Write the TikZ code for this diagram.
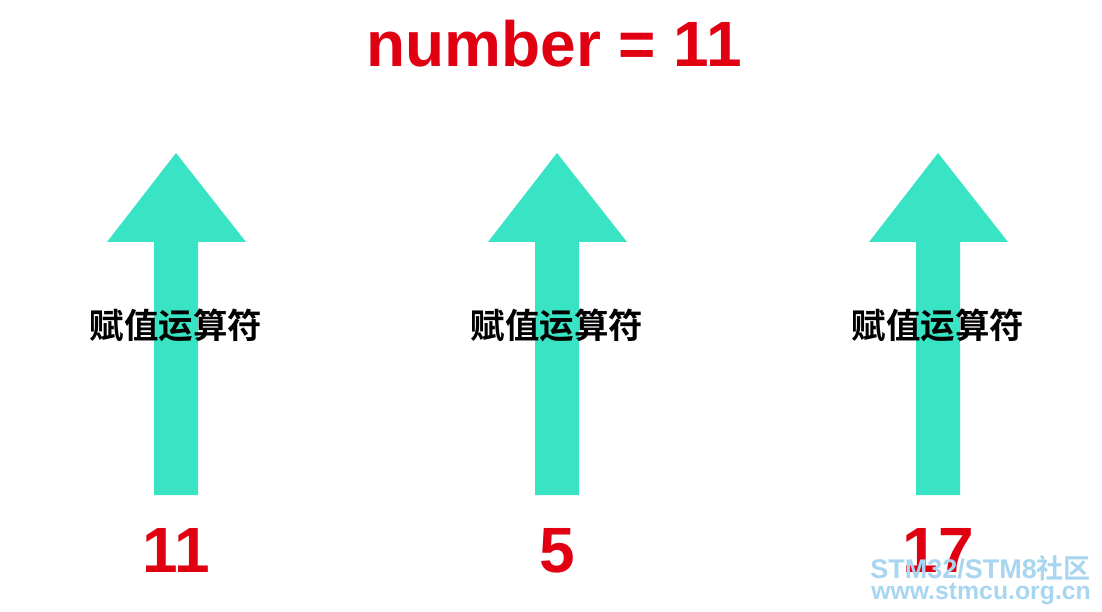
\documentclass[tikz,border=0pt]{standalone}
\usepackage{fontspec}
\setmainfont{Liberation Sans}
\newfontfamily\cjk{Noto Sans CJK SC}[BoldFont={Noto Sans CJK SC Bold}]
\definecolor{arrowgreen}{RGB}{57,228,197}
\definecolor{numred}{RGB}{225,0,18}
\definecolor{wmblue}{RGB}{168,214,240}
\tikzset{
  bigarrow/.style={fill=arrowgreen, draw=none},
  numlabel/.style={text=numred, font=\fontsize{64}{64}\selectfont\bfseries, inner sep=0pt, anchor=base},
  oplabel/.style={text=black, font=\cjk\fontsize{34.5}{34.5}\selectfont\bfseries, inner sep=0pt},
  wm/.style={text=wmblue, inner sep=0pt, anchor=base east}
}
\begin{document}
\begin{tikzpicture}[x=1pt,y=-1pt]
\useasboundingbox (0,0) rectangle (1102,612);
\fill[white] (0,0) rectangle (1102,612);
\node[numlabel] (title) at (554,67) {number = 11};
\foreach \cx/\val/\nm in {176/11/a, 557/5/b, 938/17/c}{
  \fill[bigarrow] (\cx-22,495) -- (\cx-22,242) -- (\cx-69,242) -- (\cx,153) -- (\cx+70,242) -- (\cx+22,242) -- (\cx+22,495) -- cycle;
  \node[oplabel] (op\nm) at (\cx,325) {赋值运算符};
  \node[numlabel] (num\nm) at (\cx,572) {\val};
}
\node[wm, font=\cjk\fontsize{27}{27}\selectfont\bfseries] (wm1) at (1091,578) {\fontspec{Liberation Sans}\bfseries STM32/STM8\cjk\bfseries 社区};
\node[wm, font=\fontsize{24.8}{25}\selectfont\bfseries] (wm2) at (1091,599) {www.stmcu.org.cn};
\end{tikzpicture}
\end{document}
